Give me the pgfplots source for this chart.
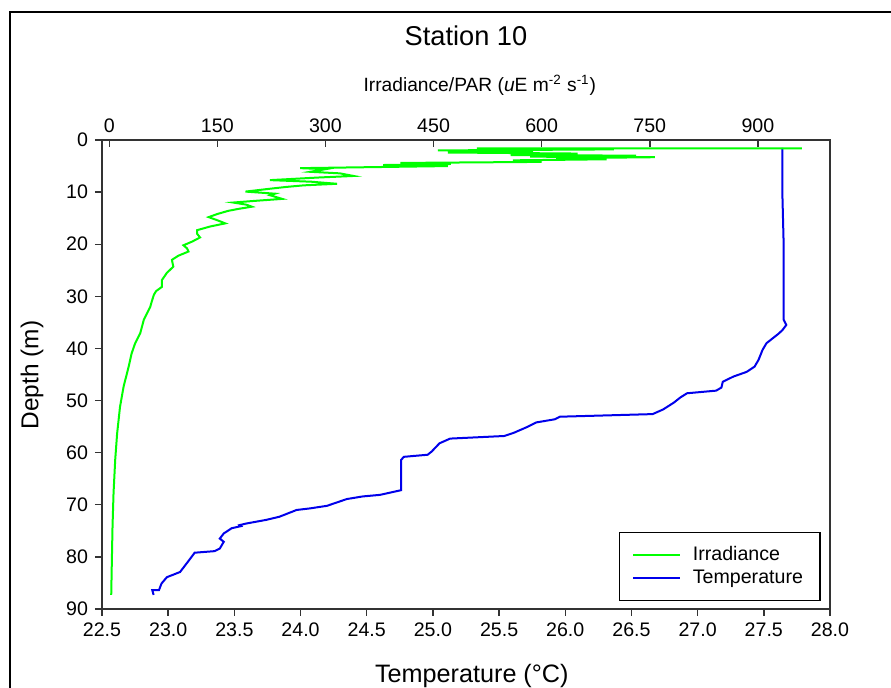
\documentclass[border=0pt]{standalone}
\usepackage{pgfplots}
\pgfplotsset{compat=1.18}
\usepackage{fontspec}
\setmainfont{Liberation Sans}
\definecolor{irrgreen}{RGB}{0,255,0}
\definecolor{tempblue}{RGB}{0,0,235}
\begin{document}
\begin{tikzpicture}
\path[use as bounding box] (0,0) rectangle (445.5pt,344pt);
\draw[line width=1.1pt] (5pt,-2pt) -- (5pt,338pt) -- (450pt,338pt);
\begin{axis}[
  at={(51pt,39.5pt)}, anchor=south west,
  scale only axis, width=364pt, height=234.5pt,
  xmin=22.5, xmax=28, ymin=0, ymax=90, y dir=reverse,
  xtick={22.5,23,...,28}, ytick={0,10,...,90},
  xtick pos=bottom, ytick pos=left, tick align=outside,
  major tick length=3.5pt,
  axis line style={line width=0.9pt, black!80},
  every tick/.style={line width=0.7pt, black!80},
  xticklabel style={/pgf/number format/.cd, fixed, fixed zerofill, precision=1},
  /pgf/number format/assume math mode=true,
  tick label style={font=\fontsize{9.8}{11}\selectfont},
  title={Station 10},
  title style={at={(axis description cs:0.5,1.224)}, anchor=center, yshift=-6.5pt, font=\fontsize{13.6}{16}\selectfont},
  xlabel={Temperature (°C)},
  xlabel style={at={(axis description cs:0.508,-0.143)}, anchor=center, font=\fontsize{12.6}{15}\selectfont},
  ylabel={Depth (m)},
  ylabel style={at={(axis description cs:-0.096,0.499)}, anchor=center, font=\fontsize{12.2}{15}\selectfont},
  clip=false,
]
\addplot[tempblue, line width=1pt] coordinates {
(27.64,1.5) (27.64,10) (27.65,20) (27.65,30) (27.65,34.5) (27.67,35.5) (27.64,36.5)
(27.61,37.2) (27.52,39.0) (27.49,40.3) (27.46,42.2) (27.43,43.5) (27.37,44.5)
(27.27,45.4) (27.19,46.4) (27.18,47.5) (27.14,48.1) (26.92,48.6) (26.87,49.4)
(26.82,50.4) (26.74,51.7) (26.66,52.6) (25.96,53.1) (25.92,53.6) (25.78,54.2)
(25.71,55.1) (25.61,56.2) (25.54,56.8) (25.13,57.3) (25.05,58.2) (24.99,59.8)
(24.96,60.4) (24.78,60.8) (24.76,61.4) (24.76,67.2) (24.60,68.1) (24.47,68.4)
(24.35,68.9) (24.20,70.2) (24.07,70.7) (23.97,71.0) (23.84,72.3) (23.74,72.9)
(23.59,73.6) (23.54,73.9) (23.55,74.1) (23.48,74.5) (23.42,75.5) (23.39,76.5)
(23.42,77.1) (23.39,78.4) (23.35,78.9) (23.20,79.2) (23.15,80.9) (23.09,82.9)
(22.99,83.9) (22.95,85.1) (22.93,86.4) (22.88,86.4) (22.89,87.3)
};
\end{axis}
\begin{axis}[
  at={(51pt,39.5pt)}, anchor=south west,
  scale only axis, width=364pt, height=234.5pt,
  xmin=-10, xmax=1000, ymin=0, ymax=90, y dir=reverse,
  axis x line*=top, hide y axis,
  xtick={0,150,...,900}, xtick pos=top, tick align=inside,
  major tick length=3.5pt,
  axis line style={line width=0.9pt, black!80},
  every tick/.style={line width=0.7pt, black!80},
  /pgf/number format/assume math mode=true,
  tick label style={font=\fontsize{9.8}{11}\selectfont},
  xlabel={Irradiance/PAR (\textit{u}E m\textsuperscript{-2} s\textsuperscript{-1})},
  xlabel style={at={(axis description cs:0.519,1.117)}, anchor=center, font=\fontsize{9.6}{11}\selectfont},
  legend style={at={(axis description cs:0.987,0.017)}, anchor=south east,
    draw=black, line width=0.6pt, font=\fontsize{9.8}{11}\selectfont,
    inner xsep=6.5pt, inner ysep=5pt, row sep=-1pt,
    /tikz/every odd column/.append style={column sep=4pt}},
  legend cell align=left,
  legend image code/.code={\draw[#1] (0pt,0pt) -- (23.5pt,0pt);},
  clip=false,
]
\addplot[irrgreen, line width=1pt, forget plot] coordinates {
(961,1.6) (510,1.6) (700,1.8) (456,2.0) (588,2.1) (470,2.4) (650,2.6) (557,2.9)
(731,3.0) (584,3.2) (757,3.3) (620,3.5) (690,3.7) (560,3.9) (600,4.2) (404,4.4)
(474,4.6) (380,4.8) (470,5.0) (265,5.4) (300,5.6) (279,6.1) (320,6.4) (339,6.9)
(290,7.2) (223,7.7) (280,8.0) (316,8.4) (270,8.7) (246,9.0) (220,9.4) (189,9.9)
(230,10.3) (223,10.6) (240,11.3) (200,11.7) (172,12.0) (190,12.4) (198,12.8)
(180,13.2) (165,13.6) (150,14.2) (138,14.8) (150,15.4) (161,16.0) (140,16.6)
(122,17.3) (122,18.0) (126,18.7) (115,19.5) (103,20.2) (108,20.8) (110,21.4)
(96,22.2) (87,23.0) (88,23.7) (89,24.3) (80,25.5) (73,26.9) (73,28.2) (65,29.0)
(62,29.7) (59,31.0) (57,32.0) (48,34.5) (43,37.1) (36,39.0) (31,41) (27,43.5)
(20,47.3) (15,51.2) (11,56.3) (8.3,61.4) (6,67.8) (4.6,74.2) (3.7,80.6) (2.8,87.3)
};
\addlegendimage{color=irrgreen, line width=0.9pt}
\addlegendentry{Irradiance}
\addlegendimage{color=tempblue, line width=0.8pt}
\addlegendentry{Temperature}
\end{axis}
\end{tikzpicture}
\end{document}
